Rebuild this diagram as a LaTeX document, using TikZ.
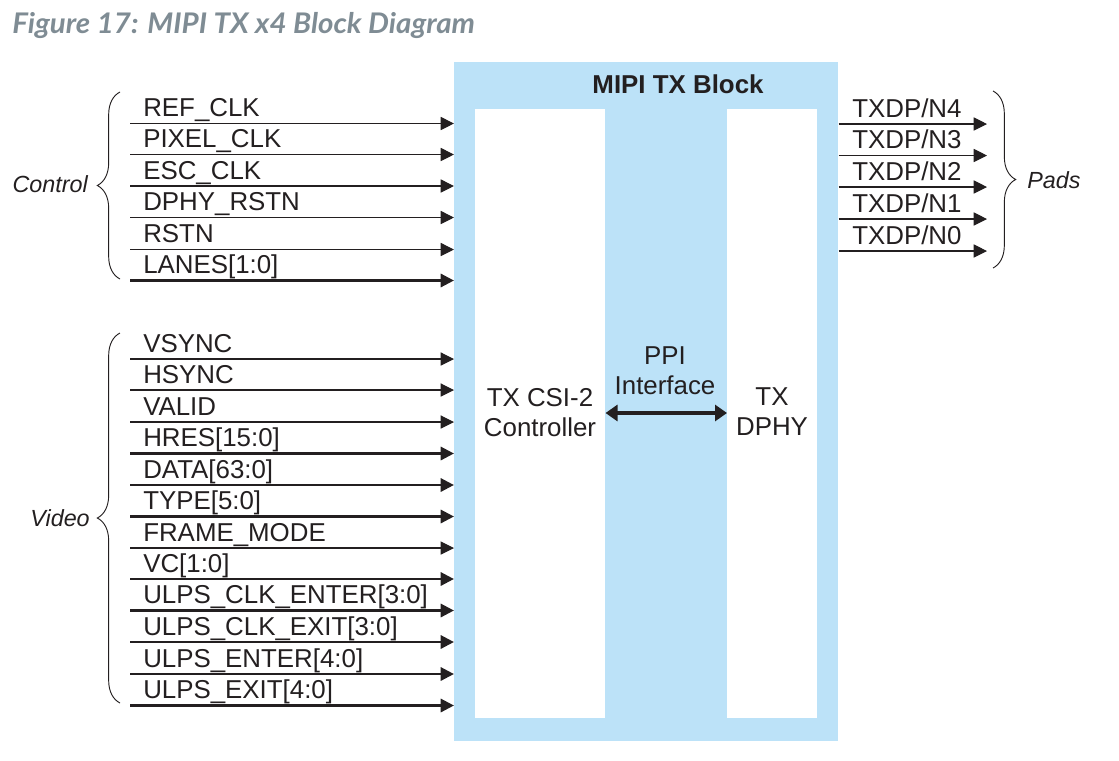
\documentclass[tikz,border=0pt]{standalone}
\usepackage{fontspec}
\setmainfont{Liberation Sans}
\newfontfamily\titlefont[FakeStretch=1.04]{Lato}
\usetikzlibrary{arrows.meta,decorations.pathreplacing}
\definecolor{blkblue}{RGB}{188,226,248}
\definecolor{ttlgray}{RGB}{127,140,148}
\definecolor{ink}{RGB}{35,31,32}
\begin{document}
\begin{tikzpicture}[x=0.75pt,y=-0.75pt,
  lab/.style={font=\fontsize{19.4}{22.5}\selectfont, text=ink, inner sep=0pt},
  grp/.style={font=\fontsize{17.5}{21}\selectfont\itshape, text=ink, inner sep=0pt},
  sig/.style={draw=ink, line width=0.8pt, -{Triangle[length=10pt,width=9.8pt]}},
  bus/.style={sig, line width=2.2pt},
  brc/.style={draw=ink, line width=0.7pt, decorate, decoration={brace, amplitude=17pt}},
  box/.style={anchor=north west, inner sep=0pt, draw=none}
]
\useasboundingbox (0,0) rectangle (1119,760);
% title
\node[anchor=base west, inner sep=0pt, text=ttlgray] (title) at (12,33)
  {\fontsize{21.3}{24}\selectfont\titlefont\bfseries\itshape Figure 17: MIPI TX x4 Block Diagram};
% blocks
\node[box, fill=blkblue, minimum width=288pt, minimum height=509.25pt] (blk) at (454,62) {};
\node[box, fill=white, minimum width=97.5pt, minimum height=456.75pt] (csi) at (475,109) {};
\node[box, fill=white, minimum width=67.5pt, minimum height=456.75pt] (dphy) at (727,109) {};
\node[lab, anchor=base, font=\fontsize{19.4}{22.5}\selectfont\bfseries] (blktitle) at (678,93) {MIPI TX Block};
\node[lab, align=center] (csitxt) at (540,413) {TX CSI-2\\Controller};
\node[lab, align=center] (dphytxt) at (772,412) {TX\\DPHY};
\node[lab, align=center] (ppitxt) at (665,371) {PPI\\Interface};
\coordinate (ppiy) at (0,413);
\draw[ink, line width=2.5pt, {Triangle[length=9pt,width=12pt]}-{Triangle[length=9pt,width=12pt]}]
  (csi.east |- ppiy) -- (dphy.west |- ppiy);
% control inputs
\foreach \i/\y/\t/\s in {1/123.5/REF\_CLK/sig, 2/154.5/PIXEL\_CLK/sig, 3/186/ESC\_CLK/sig,
  4/217.5/DPHY\_RSTN/sig, 5/249.5/RSTN/sig, 6/280.5/{LANES[1:0]}/bus}{
  \coordinate (cs\i) at (130,\y);
  \node[lab, anchor=base west] (cl\i) at (143,\y-7) {\t};
  \draw[\s] (cs\i) -- (cs\i -| blk.west);
}
% video inputs
\foreach \i/\y/\t/\s in {1/359/VSYNC/sig, 2/390/HSYNC/sig, 3/422/VALID/sig,
  4/453.5/{HRES[15:0]}/bus, 5/485/{DATA[63:0]}/bus, 6/516.5/{TYPE[5:0]}/bus,
  7/548/FRAME\_MODE/sig, 8/579/{VC[1:0]}/bus, 9/610.5/{ULPS\_CLK\_ENTER[3:0]}/bus,
  10/642/{ULPS\_CLK\_EXIT[3:0]}/bus, 11/674/{ULPS\_ENTER[4:0]}/bus, 12/705.5/{ULPS\_EXIT[4:0]}/bus}{
  \coordinate (vs\i) at (130,\y);
  \node[lab, anchor=base west] (vl\i) at (143,\y-7) {\t};
  \draw[\s] (vs\i) -- (vs\i -| blk.west);
}
% pads outputs
\foreach \i/\y/\t in {1/124/{TXDP/N4}, 2/155.5/{TXDP/N3}, 3/187/{TXDP/N2}, 4/219/{TXDP/N1}, 5/251/{TXDP/N0}}{
  \coordinate (pe\i) at (987,\y);
  \node[lab, anchor=base west] (pl\i) at (852,\y-7) {\t};
  \draw[sig] (pe\i -| blk.east) -- (pe\i);
}
% braces
\coordinate (cbt) at (120,92);
\coordinate (cbb) at (120,279);
\draw[brc] (cbb) -- (cbt);
\node[grp, anchor=base east] (ctrl) at (88,192) {Control};
\coordinate (vbt) at (120,333);
\coordinate (vbb) at (120,703);
\draw[brc] (vbb) -- (vbt);
\node[grp, anchor=base east] (video) at (90,526) {Video};
\coordinate (pbt) at (993,91);
\coordinate (pbb) at (993,268);
\draw[brc] (pbt) -- (pbb);
\node[grp, anchor=base west] (pads) at (1027,188) {Pads};
\end{tikzpicture}
\end{document}
